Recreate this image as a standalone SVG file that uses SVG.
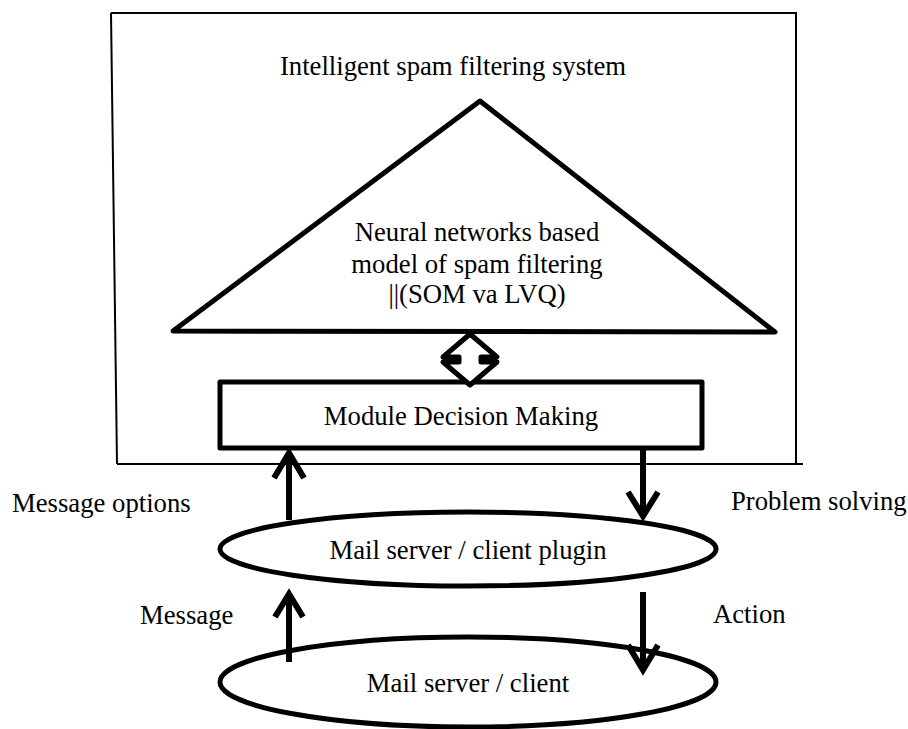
<svg xmlns="http://www.w3.org/2000/svg" width="908" height="729" viewBox="0 0 908 729">
<style>
  .t { font-family: "Liberation Serif", "Times New Roman", serif; font-size: 26.7px; fill: #000; }
  .m { text-anchor: middle; }
  .shape { fill: #fff; stroke: #000; stroke-width: 5; stroke-linejoin: round; }
  .frame { fill: none; stroke: #000; stroke-width: 2; }
  .conn { fill: none; stroke: #000; stroke-width: 6; stroke-linecap: butt; stroke-linejoin: miter; }
</style>
<rect width="908" height="729" fill="#fff"/>
<g id="system">
  <path class="frame" d="M111,13 L796,13 L796,464 M111,13 L117,464 M117,464 L803,464"/>
  <text class="t m" x="453" y="75">Intelligent spam filtering system</text>
</g>
<g id="model">
  <path class="shape" d="M480,101 L775,332 L173,331 Z"/>
  <text class="t m" x="477" y="241">Neural networks based</text>
  <text class="t m" x="477" y="273">model of spam filtering</text>
  <text class="t m" x="477" y="303">||(SOM va LVQ)</text>
</g>
<g id="decision">
  <rect class="shape" x="220" y="382" width="482" height="66" stroke-width="4"/>
  <text class="t m" x="461" y="425">Module Decision Making</text>
</g>
<g id="plugin">
  <ellipse class="shape" cx="468" cy="549" rx="248" ry="37"/>
  <text class="t m" x="468" y="559">Mail server / client plugin</text>
</g>
<g id="client">
  <ellipse class="shape" cx="468" cy="682" rx="248" ry="45"/>
  <text class="t m" x="468" y="692">Mail server / client</text>
</g>
<g id="connectors">
  <path class="shape" stroke-width="4" stroke-linejoin="miter" d="M470,334 L497,357 L481,357 L481,362 L497,362 L470,385 L443,362 L459,362 L459,357 L443,357 Z"/>
  <path class="conn" d="M289,520 L289,452 M274,478 L289,453 L304,478"/>
  <path class="conn" d="M643,448 L643,516 M628,492 L643,516 L658,492"/>
  <path class="conn" d="M289,662 L289,594 M275,617 L289,594 L303,617"/>
  <path class="conn" d="M643,592 L643,670 M628,645 L643,670 L658,645"/>
  <text class="t" x="12" y="512">Message options</text>
  <text class="t" x="731" y="510">Problem solving</text>
  <text class="t" x="140" y="624">Message</text>
  <text class="t" x="713" y="623">Action</text>
</g>
</svg>
